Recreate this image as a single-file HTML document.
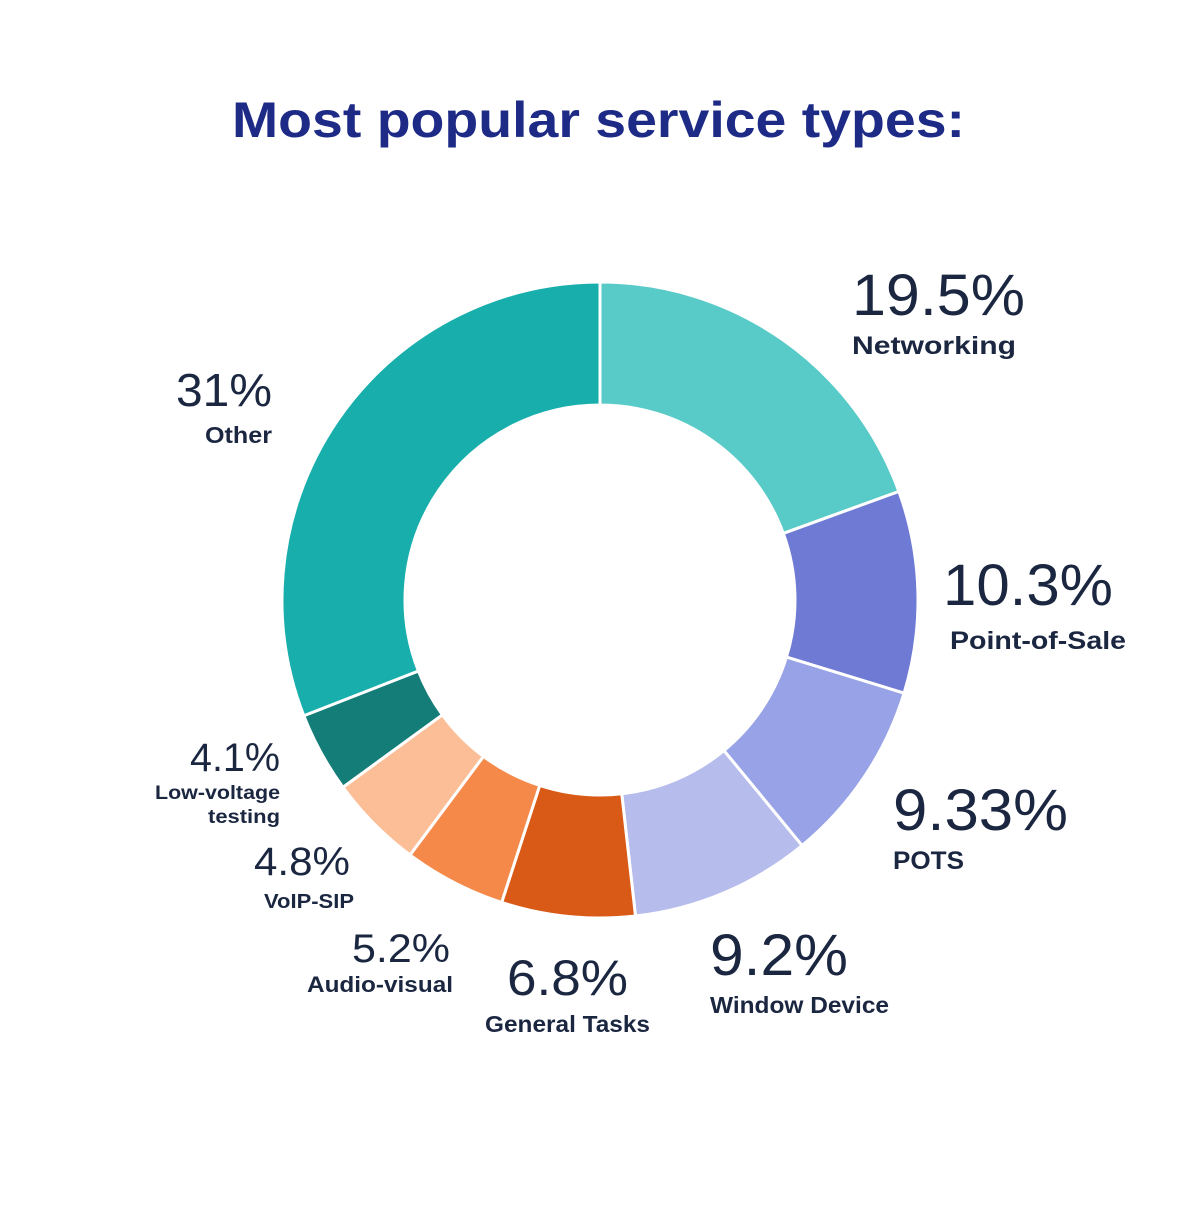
<!DOCTYPE html>
<html><head><meta charset="utf-8"><style>
body{margin:0;background:#fff;width:1200px;height:1200px;overflow:hidden;font-family:"Liberation Sans",sans-serif}
</style></head><body>
<svg id="s" width="1200" height="1200" viewBox="0 0 1200 1200" xmlns="http://www.w3.org/2000/svg">
<text x="232" y="137" textLength="733" lengthAdjust="spacingAndGlyphs" font-size="50" font-weight="bold" fill="#1d2a86" font-family="Liberation Sans, sans-serif">Most popular service types:</text>
<g id="d"></g>
<g fill="#1b2640" font-family="Liberation Sans, sans-serif" lengthAdjust="spacingAndGlyphs">
<text x="852" y="315" font-size="58" textLength="173" lengthAdjust="spacingAndGlyphs">19.5%</text>
<text x="852" y="354" font-size="25" font-weight="bold" textLength="164" lengthAdjust="spacingAndGlyphs">Networking</text>
<text x="943" y="605" font-size="58" textLength="170" lengthAdjust="spacingAndGlyphs">10.3%</text>
<text x="950" y="649" font-size="25" font-weight="bold" textLength="176" lengthAdjust="spacingAndGlyphs">Point-of-Sale</text>
<text x="893" y="830" font-size="58" textLength="175" lengthAdjust="spacingAndGlyphs">9.33%</text>
<text x="893" y="869" font-size="25" font-weight="bold" textLength="71" lengthAdjust="spacingAndGlyphs">POTS</text>
<text x="710" y="975" font-size="58" textLength="138" lengthAdjust="spacingAndGlyphs">9.2%</text>
<text x="710" y="1013" font-size="23" font-weight="bold" textLength="179" lengthAdjust="spacingAndGlyphs">Window Device</text>
<text x="507" y="995" font-size="50" textLength="121" lengthAdjust="spacingAndGlyphs">6.8%</text>
<text x="485" y="1032" font-size="23" font-weight="bold" textLength="165" lengthAdjust="spacingAndGlyphs">General Tasks</text>
<text x="352" y="962" font-size="40" textLength="98" lengthAdjust="spacingAndGlyphs">5.2%</text>
<text x="307" y="992" font-size="22" font-weight="bold" textLength="146" lengthAdjust="spacingAndGlyphs">Audio-visual</text>
<text x="254" y="875" font-size="40" textLength="96" lengthAdjust="spacingAndGlyphs">4.8%</text>
<text x="264" y="908" font-size="20" font-weight="bold" textLength="90" lengthAdjust="spacingAndGlyphs">VoIP-SIP</text>
<text x="190" y="771" font-size="40" textLength="90" lengthAdjust="spacingAndGlyphs">4.1%</text>
<text x="155" y="799" font-size="19" font-weight="bold" textLength="125" lengthAdjust="spacingAndGlyphs">Low-voltage</text>
<text x="208" y="823" font-size="19" font-weight="bold" textLength="72" lengthAdjust="spacingAndGlyphs">testing</text>
<text x="176" y="406" font-size="46" textLength="96" lengthAdjust="spacingAndGlyphs">31%</text>
<text x="205" y="443" font-size="23" font-weight="bold" textLength="67" lengthAdjust="spacingAndGlyphs">Other</text>
</g>
</svg>
<script>
var v=[[19.5,"#58cac7"],[10.3,"#6e7ad3"],[9.33,"#98a2e6"],[9.2,"#b6bcec"],[6.8,"#d95a17"],[5.2,"#f4894a"],[4.8,"#fbbe96"],[4.1,"#157d78"],[31,"#17aeac"]];
var t=0;v.forEach(function(a){t+=a[0]});
var cx=600,cy=600,R=318,r=195,a0=0,h="";
function p(a,rad){return (cx+rad*Math.sin(a)).toFixed(2)+","+(cy-rad*Math.cos(a)).toFixed(2)}
v.forEach(function(a){var a1=a0+a[0]/t*2*Math.PI;var l=(a1-a0)>Math.PI?1:0;
h+='<path d="M'+p(a0,R)+' A'+R+','+R+' 0 '+l+' 1 '+p(a1,R)+' L'+p(a1,r)+' A'+r+','+r+' 0 '+l+' 0 '+p(a0,r)+' Z" fill="'+a[1]+'" stroke="#fff" stroke-width="3"/>';a0=a1;});
document.getElementById("d").innerHTML=h;
</script>
</body></html>
